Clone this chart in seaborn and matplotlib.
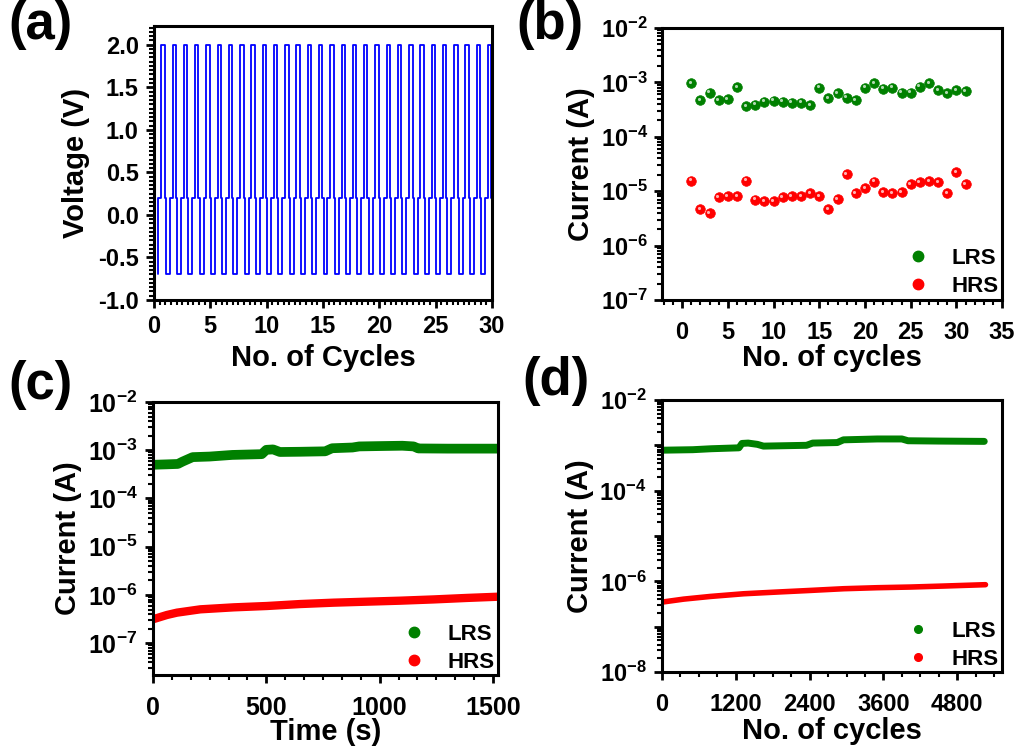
import numpy as np
import seaborn as sns
import matplotlib.pyplot as plt
from matplotlib.lines import Line2D
from matplotlib.ticker import AutoMinorLocator, MultipleLocator, LogLocator, FuncFormatter, NullFormatter
import matplotlib.transforms as mtrans

# ---- (a) pulse train, levels and edges ----
v_set = 2.0
v_read = 0.2
v_reset = -0.7
n_set = 30
first_set = 0.65          # first SET edge (cycle units)
set_width = 0.30
gap = 0.10                # read plateau between SET and RESET
reset_width = 0.35
lead_in = 0.40            # trace starts at v_reset here

# ---- (b) 31 endurance cycles ----
cycles_b = list(range(1, 32))
lrs_b = [9.6e-4, 4.7e-4, 6.5e-4, 4.7e-4, 4.9e-4, 8.1e-4, 3.6e-4, 3.9e-4, 4.4e-4, 4.6e-4,
         4.4e-4, 4.2e-4, 4.2e-4, 3.8e-4, 8.0e-4, 5.1e-4, 6.3e-4, 5.2e-4, 4.7e-4, 8.0e-4,
         9.6e-4, 7.7e-4, 8.0e-4, 6.5e-4, 6.5e-4, 8.3e-4, 9.6e-4, 7.2e-4, 6.3e-4, 7.2e-4, 6.9e-4]
hrs_b = [1.57e-5, 4.7e-6, 3.9e-6, 7.7e-6, 8.1e-6, 8.1e-6, 1.57e-5, 7.0e-6, 6.5e-6, 6.5e-6,
         7.7e-6, 8.1e-6, 8.1e-6, 9.2e-6, 8.1e-6, 4.7e-6, 7.2e-6, 2.03e-5, 9.2e-6, 1.13e-5,
         1.5e-5, 9.6e-6, 9.2e-6, 9.6e-6, 1.36e-5, 1.47e-5, 1.53e-5, 1.47e-5, 9.2e-6, 2.25e-5, 1.36e-5]

# ---- (c) retention ----
t_lrs_c = [0, 60, 110, 130, 175, 250, 350, 480, 500, 530, 560, 650, 760, 790, 880, 910,
           1000, 1100, 1150, 1170, 1300, 1520]
lrs_c = [5.0e-4, 5.1e-4, 5.2e-4, 5.8e-4, 7.2e-4, 7.4e-4, 8.0e-4, 8.3e-4, 1.02e-3, 1.04e-3,
         9.2e-4, 9.3e-4, 9.5e-4, 1.1e-3, 1.14e-3, 1.2e-3, 1.22e-3, 1.24e-3, 1.2e-3, 1.09e-3,
         1.08e-3, 1.08e-3]
t_hrs_c = [0, 62, 106, 209, 356, 503, 650, 797, 944, 1091, 1238, 1385, 1518]
hrs_c = [3.14e-7, 3.86e-7, 4.31e-7, 5.05e-7, 5.55e-7, 5.92e-7, 6.5e-7, 6.94e-7, 7.28e-7,
         7.63e-7, 8.1e-7, 8.7e-7, 9.2e-7]

# ---- (d) long endurance ----
n_lrs_d = [0, 500, 800, 1250, 1300, 1400, 1550, 1650, 2350, 2450, 2850, 2950, 3500, 3900,
           4000, 4500, 5240]
lrs_d = [7.8e-4, 8.0e-4, 8.4e-4, 8.8e-4, 1.1e-3, 1.12e-3, 1.05e-3, 9.6e-4, 1.0e-3, 1.12e-3,
         1.15e-3, 1.32e-3, 1.38e-3, 1.38e-3, 1.26e-3, 1.24e-3, 1.22e-3]
n_hrs_d = [0, 352, 786, 1329, 1871, 2413, 2956, 3498, 4040, 4583, 5260]
hrs_d = [3.48e-7, 4.05e-7, 4.64e-7, 5.32e-7, 5.8e-7, 6.3e-7, 6.87e-7, 7.23e-7, 7.48e-7,
         7.87e-7, 8.43e-7]

GREEN = "#008000"
RED = "#ff0000"
BLUE = "#0000ff"

sns.set_style("ticks")
plt.rcParams.update({
    "font.family": ["Liberation Sans", "DejaVu Sans"],
    "font.weight": "bold",
    "axes.labelweight": "bold",
    "text.color": "black",
    "axes.labelcolor": "black",
    "xtick.color": "black",
    "ytick.color": "black",
    "mathtext.fontset": "custom",
    "mathtext.rm": "Liberation Sans:bold",
    "mathtext.bf": "Liberation Sans:bold",
    "mathtext.default": "bf",
})


def pulse_train():
    t = [lead_in, lead_in]
    v = [v_reset, v_read]
    for k in range(n_set):
        s = first_set + k
        t += [s, s, s + set_width, s + set_width]
        v += [v_read, v_set, v_set, v_read]
        if k < n_set - 1:
            r = s + set_width + gap
            t += [r, r, r + reset_width, r + reset_width]
            v += [v_read, v_reset, v_reset, v_read]
    t.append(first_set + n_set - 1 + set_width + gap)
    v.append(v_read)
    return t, v


def style(ax, xpad, ypad, size=17):
    for s in ax.spines.values():
        s.set_linewidth(2.2)
        s.set_color("black")
    ax.tick_params(which="major", direction="out", length=6, width=2, labelsize=size,
                   top=False, right=False)
    ax.tick_params(which="minor", direction="out", length=3.5, width=1.5, top=False, right=False)
    ax.tick_params(axis="x", which="major", pad=xpad)
    ax.tick_params(axis="y", which="major", pad=ypad)


def log_fmt(step=1):
    def f(v, pos):
        e = int(round(np.log10(v)))
        if e % step:
            return ""
        return r"$\mathdefault{10^{%d}}$" % e
    return FuncFormatter(f)


def legend(ax, ms, anchor):
    handles = [Line2D([], [], ls="none", marker="o", ms=ms, color=GREEN),
               Line2D([], [], ls="none", marker="o", ms=ms, color=RED)]
    ax.legend(handles, ["LRS", "HRS"], loc="lower right", bbox_to_anchor=anchor,
              frameon=False, prop={"size": 16, "weight": "bold"}, handlelength=1.0,
              handletextpad=1.0, labelspacing=0.3, borderaxespad=0.0)


fig = plt.figure(figsize=(10.19, 7.49), dpi=100)
ax_a = fig.add_axes([0.1511, 0.5995, 0.3317, 0.3658])
ax_b = fig.add_axes([0.6497, 0.5995, 0.3337, 0.3632])
ax_c = fig.add_axes([0.1501, 0.0988, 0.3386, 0.3645])
ax_d = fig.add_axes([0.6497, 0.1028, 0.3337, 0.3632])

# (a)
ta, va = pulse_train()
sns.lineplot(x=ta, y=va, ax=ax_a, sort=False, estimator=None, color=BLUE, lw=1.3)
ax_a.set_xlim(0, 30)
ax_a.set_ylim(-1.0, 2.22)
ax_a.xaxis.set_major_locator(MultipleLocator(5))
ax_a.xaxis.set_minor_locator(AutoMinorLocator(10))
ax_a.yaxis.set_major_locator(MultipleLocator(0.5))
ax_a.yaxis.set_minor_locator(AutoMinorLocator(10))
ax_a.yaxis.set_major_formatter(FuncFormatter(lambda v, p: f"{v:.1f}"))
ax_a.set_xlabel("No. of Cycles", fontsize=21, labelpad=4)
ax_a.set_ylabel("Voltage (V)", fontsize=21, labelpad=6)
style(ax_a, 5, 5)

# (b)
hl = mtrans.offset_copy(ax_b.transData, fig=fig, x=-1.0, y=1.0, units="points")
for vals, col in [(lrs_b, GREEN), (hrs_b, RED)]:
    sns.scatterplot(x=cycles_b, y=vals, ax=ax_b, color=col, s=48, edgecolor=col, linewidth=0.5)
    ax_b.scatter(cycles_b, vals, s=5, color="white", alpha=0.7, lw=0, transform=hl, zorder=5)
ax_b.set_yscale("log")
ax_b.set_xlim(-2.2, 35)
ax_b.set_ylim(1e-7, 1e-2)
ax_b.xaxis.set_major_locator(MultipleLocator(5))
ax_b.xaxis.set_minor_locator(AutoMinorLocator(5))
ax_b.yaxis.set_major_locator(LogLocator(base=10, numticks=10))
ax_b.yaxis.set_major_formatter(log_fmt())
ax_b.yaxis.set_minor_locator(LogLocator(base=10, subs=np.arange(2, 10), numticks=20))
ax_b.yaxis.set_minor_formatter(NullFormatter())
ax_b.set_xlabel("No. of cycles", fontsize=21, labelpad=0)
ax_b.set_ylabel("Current (A)", fontsize=21, labelpad=4)
style(ax_b, 9, 4)
legend(ax_b, 7.5, (1.015, -0.02))

# (c)
sns.lineplot(x=t_lrs_c, y=lrs_c, ax=ax_c, color=GREEN, lw=7, estimator=None)
sns.lineplot(x=t_hrs_c, y=hrs_c, ax=ax_c, color=RED, lw=6, estimator=None)
ax_c.set_yscale("log")
ax_c.set_xlim(0, 1522)
ax_c.set_ylim(2.2e-8, 1e-2)
ax_c.xaxis.set_major_locator(MultipleLocator(500))
ax_c.xaxis.set_minor_locator(AutoMinorLocator(6))
ax_c.yaxis.set_major_locator(LogLocator(base=10, numticks=12))
ax_c.yaxis.set_major_formatter(log_fmt())
ax_c.yaxis.set_minor_locator(LogLocator(base=10, subs=np.arange(2, 10), numticks=20))
ax_c.yaxis.set_minor_formatter(NullFormatter())
ax_c.set_xlabel("Time (s)", fontsize=21, labelpad=-1)
ax_c.set_ylabel("Current (A)", fontsize=21, labelpad=4)
style(ax_c, 9, 5, 18)
legend(ax_c, 7.5, (1.015, -0.025))

# (d)
sns.lineplot(x=n_lrs_d, y=lrs_d, ax=ax_d, color=GREEN, lw=5, estimator=None)
sns.lineplot(x=n_hrs_d, y=hrs_d, ax=ax_d, color=RED, lw=4, estimator=None)
ax_d.set_yscale("log")
ax_d.set_xlim(0, 5530)
ax_d.set_ylim(1e-8, 1e-2)
ax_d.xaxis.set_major_locator(MultipleLocator(1200))
ax_d.xaxis.set_minor_locator(AutoMinorLocator(4))
ax_d.yaxis.set_major_locator(LogLocator(base=10, numticks=12))
ax_d.yaxis.set_major_formatter(log_fmt(2))
ax_d.yaxis.set_minor_locator(LogLocator(base=10, subs=np.arange(2, 10), numticks=20))
ax_d.yaxis.set_minor_formatter(NullFormatter())
ax_d.set_xlabel("No. of cycles", fontsize=21, labelpad=1)
ax_d.set_ylabel("Current (A)", fontsize=21, labelpad=4)
style(ax_d, 9, 5)
legend(ax_d, 5.5, (1.015, -0.025))

for lab, x, y in [("(a)", 8, 0), ("(b)", 516, 0), ("(c)", 8, 360), ("(d)", 522, 356)]:
    fig.text(x / 1019, 1 - y / 749, lab, fontsize=38, fontweight="bold", va="top", ha="left")

fig.savefig("out.png", dpi=100)
